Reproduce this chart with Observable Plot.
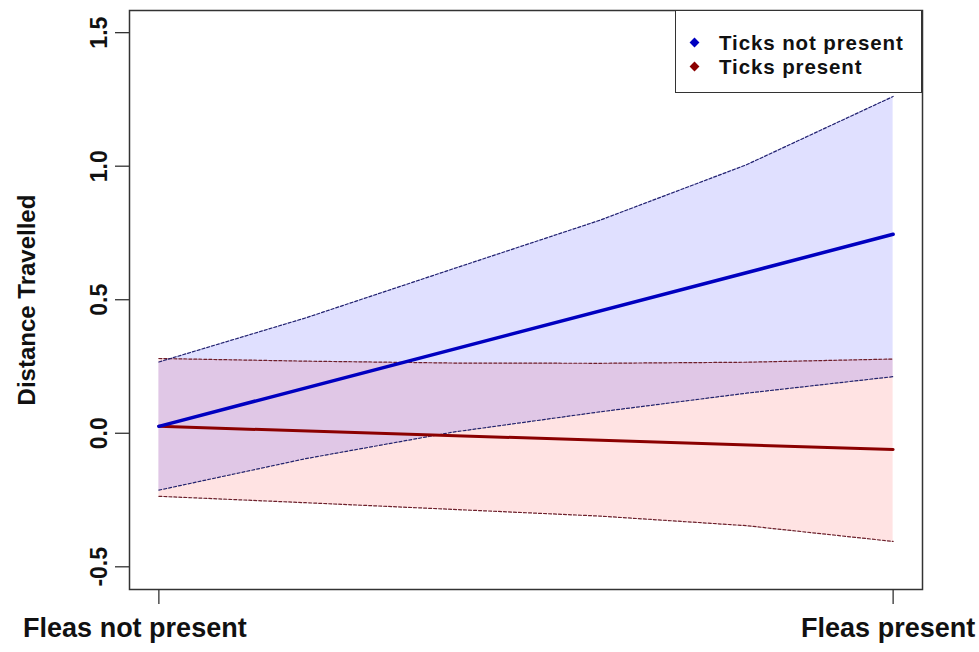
<!DOCTYPE html>
<html>
<head>
<meta charset="utf-8">
<script src="https://cdn.jsdelivr.net/npm/d3@7"></script>
<script src="https://cdn.jsdelivr.net/npm/@observablehq/plot@0.6"></script>
<style>
  html, body { margin: 0; padding: 0; background: #fff; }
  #wrap { position: relative; width: 979px; height: 652px; font-family: "Liberation Sans", Arial, sans-serif; }
  #legend { position: absolute; left: 675px; top: 10px; width: 245px; height: 81px; border: 1.5px solid #333; background: #fff; box-sizing: content-box; }
  .item { position: absolute; left: 43px; font-weight: bold; font-size: 20.5px; letter-spacing: 0.9px; line-height: 20px; height: 20px; color: #111; white-space: nowrap; }
  .dia { position: absolute; left: 15px; width: 7px; height: 7px; transform: rotate(45deg); }
</style>
</head>
<body>
<div id="wrap"></div>
<script>
// x: 0 = Fleas not present, 1 = Fleas present
const xs = [0, 0.2, 0.4, 0.6, 0.8, 1];
const blueUpper = [0.267, 0.432, 0.615, 0.797, 1.005, 1.261];
const blueLower = [-0.213, -0.095, 0.004, 0.08, 0.15, 0.212];
const redUpper  = [0.28, 0.27, 0.263, 0.262, 0.266, 0.278];
const redLower  = [-0.236, -0.26, -0.285, -0.31, -0.346, -0.405];
const fitX = [0, 1];
const blueFit = [0.026, 0.745];
const redFit  = [0.026, -0.061];
const xTickVals = [0, 1];
const xTickLabels = ["Fleas not present", "Fleas present"];
const yTicks = [-0.5, 0, 0.5, 1.0, 1.5];
const seriesNames = ["Ticks not present", "Ticks present"];
const seriesColors = ["#0000c0", "#8b0000"];

const band = (lo, hi) => xs.map((x, i) => ({x, lo: lo[i], hi: hi[i]}));
const line = (ys) => fitX.map((x, i) => ({x, y: ys[i]}));
const blueBand = band(blueLower, blueUpper);
const redBand = band(redLower, redUpper);
const font = "Liberation Sans, Arial, sans-serif";

const chart = Plot.plot({
  width: 979,
  height: 652,
  marginLeft: 129,
  marginRight: 57,
  marginTop: 10,
  marginBottom: 63,
  style: {background: "#fff", fontFamily: font},
  x: {domain: [-0.04, 1.04], axis: null},
  y: {domain: [-0.585, 1.583], axis: null},
  marks: [
    Plot.areaY(redBand, {x: "x", y1: "lo", y2: "hi", fill: "red", fillOpacity: 0.11}),
    Plot.areaY(blueBand, {x: "x", y1: "lo", y2: "hi", fill: "blue", fillOpacity: 0.12}),
    Plot.line(redBand, {x: "x", y: "hi", stroke: "#6e1f2a", strokeWidth: 1.2, strokeDasharray: "3,2"}),
    Plot.line(redBand, {x: "x", y: "lo", stroke: "#6e1f2a", strokeWidth: 1.2, strokeDasharray: "3,2"}),
    Plot.line(blueBand, {x: "x", y: "hi", stroke: "#22226e", strokeWidth: 1.2, strokeDasharray: "3,2"}),
    Plot.line(blueBand, {x: "x", y: "lo", stroke: "#22226e", strokeWidth: 1.2, strokeDasharray: "3,2"}),
    Plot.line(line(redFit), {x: "x", y: "y", stroke: seriesColors[1], strokeWidth: 3}),
    Plot.line(line(blueFit), {x: "x", y: "y", stroke: seriesColors[0], strokeWidth: 3.5}),
    Plot.frame({stroke: "#333", strokeWidth: 1.5}),
    Plot.axisY(yTicks, {tickSize: 14, tickFormat: () => "", stroke: "#333", strokeWidth: 1.3, label: null}),
    Plot.text(yTicks, {y: d => d, text: d => d.toFixed(1), frameAnchor: "left", dx: -30, rotate: -90,
      textAnchor: "middle", fontSize: 23, fontWeight: "bold", fill: "#111"}),
    Plot.axisX(xTickVals, {tickSize: 15, tickFormat: () => "", stroke: "#333", strokeWidth: 1.3, label: null}),
    Plot.text([0], {x: d => xTickVals[0], text: d => xTickLabels[0], frameAnchor: "bottom", dy: 47, dx: -24,
      textAnchor: "middle", fontSize: 27, fontWeight: "bold", fill: "#111"}),
    Plot.text([1], {x: d => xTickVals[1], text: d => xTickLabels[1], frameAnchor: "bottom", dy: 47, dx: -5,
      textAnchor: "middle", fontSize: 27, fontWeight: "bold", fill: "#111"}),
    Plot.text(["Distance Travelled"], {text: d => d, frameAnchor: "left", dx: -102, rotate: -90,
      textAnchor: "middle", fontSize: 24, fontWeight: "bold", fill: "#111"})
  ]
});

const wrap = document.getElementById("wrap");
wrap.appendChild(chart);
const legend = document.createElement("div");
legend.id = "legend";
seriesNames.forEach((name, i) => {
  const d = document.createElement("div");
  d.className = "dia";
  d.style.background = seriesColors[i];
  d.style.top = (28 + i * 24) + "px";
  legend.appendChild(d);
  const t = document.createElement("div");
  t.className = "item";
  t.textContent = name;
  t.style.top = (22 + i * 24) + "px";
  legend.appendChild(t);
});
wrap.appendChild(legend);
</script>
</body>
</html>
